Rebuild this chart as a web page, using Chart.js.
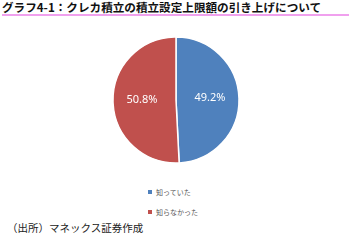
<!DOCTYPE html>
<html>
<head>
<meta charset="utf-8">
<script src="https://cdn.jsdelivr.net/npm/chart.js@4"></script>
<style>
  html, body { margin: 0; padding: 0; background: #fff; }
  body { width: 351px; height: 242px; position: relative; overflow: hidden; }
  #title {
    position: absolute; left: 2px; top: 0px; width: 347px; height: 14px;
    font: bold 11.6px "Noto Sans CJK JP", sans-serif; color: #111;
    line-height: 14px; white-space: nowrap;
    border-bottom: 2px solid #f0a0ee;
  }
  #chartBox { position: absolute; left: 106px; top: 30px; width: 140px; height: 140px; }
  #legend { position: absolute; left: 148px; top: 182px; }
  .item { height: 20px; display: flex; align-items: center;
    font: 7px "Noto Sans CJK JP", sans-serif; color: #595959; }
  .item span.box { width: 4px; height: 4px; margin-right: 4px; display: inline-block; }
  #source {
    position: absolute; left: 7px; top: 220px;
    font: 10.5px "Noto Sans CJK JP", sans-serif; color: #222; white-space: nowrap;
  }
</style>
</head>
<body>
<div id="title">グラフ4-1：クレカ積立の積立設定上限額の引き上げについて</div>
<div id="chartBox"><canvas id="pieChart" width="140" height="140"></canvas></div>
<div id="legend"></div>
<div id="source">（出所）マネックス証券作成</div>
<script>
const labels = ["知っていた", "知らなかった"];
const values = [49.2, 50.8];
const colors = ["#4f81bd", "#c0504d"];

// write percentage labels inside each slice
const sliceLabels = {
    id: "sliceLabels",
    afterDatasetsDraw(chart) {
        const ctx = chart.ctx;
        const meta = chart.getDatasetMeta(0);
        ctx.save();
        ctx.font = "11px 'Noto Sans', sans-serif";
        ctx.fillStyle = "#fff";
        ctx.textAlign = "center";
        ctx.textBaseline = "middle";
        meta.data.forEach((arc, i) => {
            const p = arc.getCenterPoint();
            const dx = (p.x - arc.x) * 1.08;
            const dy = (p.y - arc.y) * 1.08;
            ctx.fillText(values[i].toFixed(1) + "%", arc.x + dx, arc.y + dy - 1);
        });
        ctx.restore();
    }
};

const chart = new Chart(document.getElementById("pieChart").getContext("2d"), {
    type: "pie",
    data: {
        labels: labels,
        datasets: [{
            data: values,
            backgroundColor: colors,
            borderColor: "#fff",
            borderWidth: 1.5
        }]
    },
    options: {
        responsive: false,
        animation: false,
        radius: 63,
        layout: { padding: 0 },
        plugins: {
            legend: { display: false },
            tooltip: { enabled: false }
        }
    },
    plugins: [sliceLabels]
});

// legend below the pie, one row per category
const legend = document.getElementById("legend");
labels.forEach((name, i) => {
    const row = document.createElement("div");
    row.className = "item";
    const box = document.createElement("span");
    box.className = "box";
    box.style.background = colors[i];
    row.appendChild(box);
    row.appendChild(document.createTextNode(name));
    legend.appendChild(row);
});
</script>
</body>
</html>
